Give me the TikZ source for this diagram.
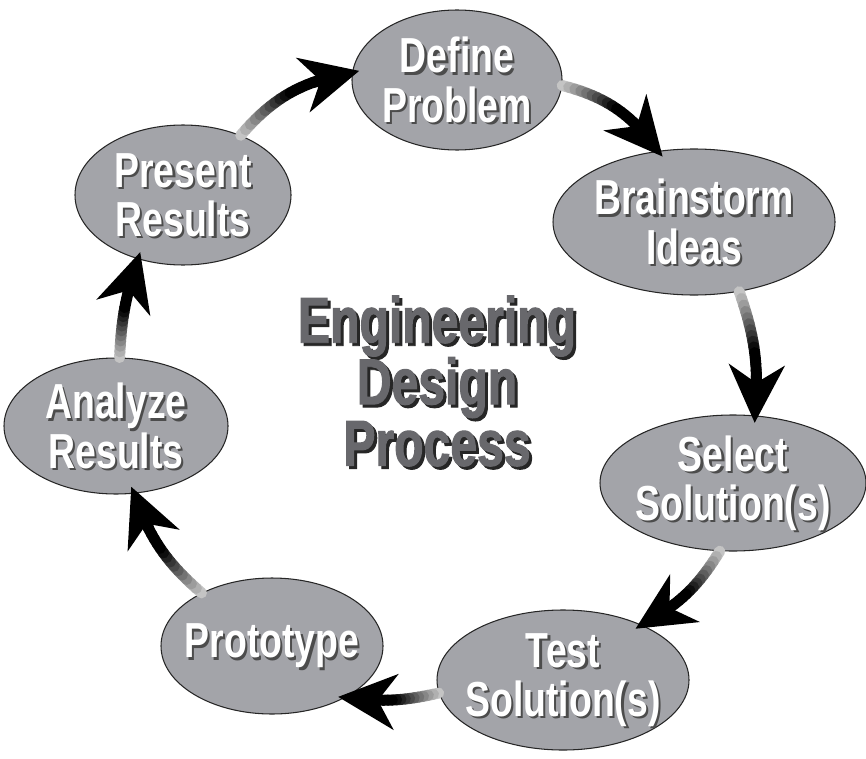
\documentclass[tikz,border=0pt]{standalone}
\usepackage{fontspec}
\setmainfont{Liberation Sans}
\newfontfamily\stagefont[FakeStretch=0.76]{Liberation Sans}
\newfontfamily\titlefont[FakeStretch=0.74, FakeBold=1.5]{Liberation Sans}
\usepackage{tikz}
\usetikzlibrary{shapes.geometric}
\usetikzlibrary{calc}
\usetikzlibrary{arrows.meta}
\usepackage{xcolor}
\definecolor{stagegray}{RGB}{163,164,169}
\definecolor{titlegray}{RGB}{104,104,108}
\tikzstyle{stage}=[ellipse, draw=black!85, line width=.6pt, fill=stagegray, inner sep=0pt]
\tikzstyle{stagetext}=[align=center, inner sep=0pt, font=\stagefont\bfseries\fontsize{28}{28}\selectfont]
\tikzstyle{titletext}=[align=center, inner sep=0pt, font=\titlefont\bfseries\fontsize{37}{35}\selectfont]
\tikzstyle{flow}=[line width=2.2mm, line cap=round]
\newcommand{\stageNbox}[5]{
	\node[stage, minimum width=#3, minimum height=#4] (#1) at #2 {};
	\node[stagetext, text=black!70] (#1-sh) at ($(#1)+(.45mm,-.45mm)$) {#5};
	\node[stagetext, text=white] (#1-tx) at (#1) {#5};
}
\newcommand{\shadeArrow}[4]{
	\foreach \idx [evaluate=\idx as \fr using \idx/20] in {0,...,20}
		\path (#1) to[#3] coordinate[pos=\fr] (#4-\idx) (#2);
	\foreach \idx [evaluate=\idx as \prv using {int(\idx-1)}, evaluate=\idx as \shd using {int(min(100,15+8*\idx))}] in {1,...,15}
		\draw[flow, black!\shd] (#4-\prv) -- (#4-\idx);
	\draw[flow, line cap=butt, shorten >=-1.5mm, -{Stealth[length=11.5mm, width=11mm, inset=3.5mm]}] (#4-14) -- (#4-20);
}
\begin{document}
\begin{tikzpicture}[x=.2mm, y=.2mm]
	\useasboundingbox (0,0) rectangle (866,758);
	\stageNbox{define}{(457,678)}{42mm}{28mm}{Define\\Problem}
	\stageNbox{brain}{(694,536)}{56.4mm}{29.2mm}{Brainstorm\\Ideas}
	\stageNbox{select}{(733,275)}{53.2mm}{27.2mm}{Select\\Solution(s)}
	\stageNbox{test}{(563,78)}{50.4mm}{28mm}{Test\\Solution(s)}
	\stageNbox{proto}{(272,112)}{44.4mm}{27.2mm}{Prototype}
	\stageNbox{analyze}{(116,332)}{44.8mm}{27.2mm}{Analyze\\Results}
	\stageNbox{present}{(183,563)}{43.2mm}{28mm}{Present\\Results}
	\shadeArrow{present.46}{define.176}{bend left=20}{a1}
	\shadeArrow{define.-3}{brain.117}{bend left=20}{a2}
	\shadeArrow{brain.-57}{select.72}{bend left=12}{a3}
	\shadeArrow{select.-101}{test.35}{bend left=15}{a4}
	\shadeArrow{test.186}{proto.-35}{bend left=10}{a5}
	\shadeArrow{proto.143}{analyze.-75}{bend left=15}{a6}
	\shadeArrow{analyze.87}{present.-125}{bend left=8}{a7}
	\node[titletext, text=black!85] (title-sh) at (440,374) {Engineering\\Design\\Process};
	\node[titletext, text=titlegray] (title) at (437,377) {Engineering\\Design\\Process};
\end{tikzpicture}
\end{document}
